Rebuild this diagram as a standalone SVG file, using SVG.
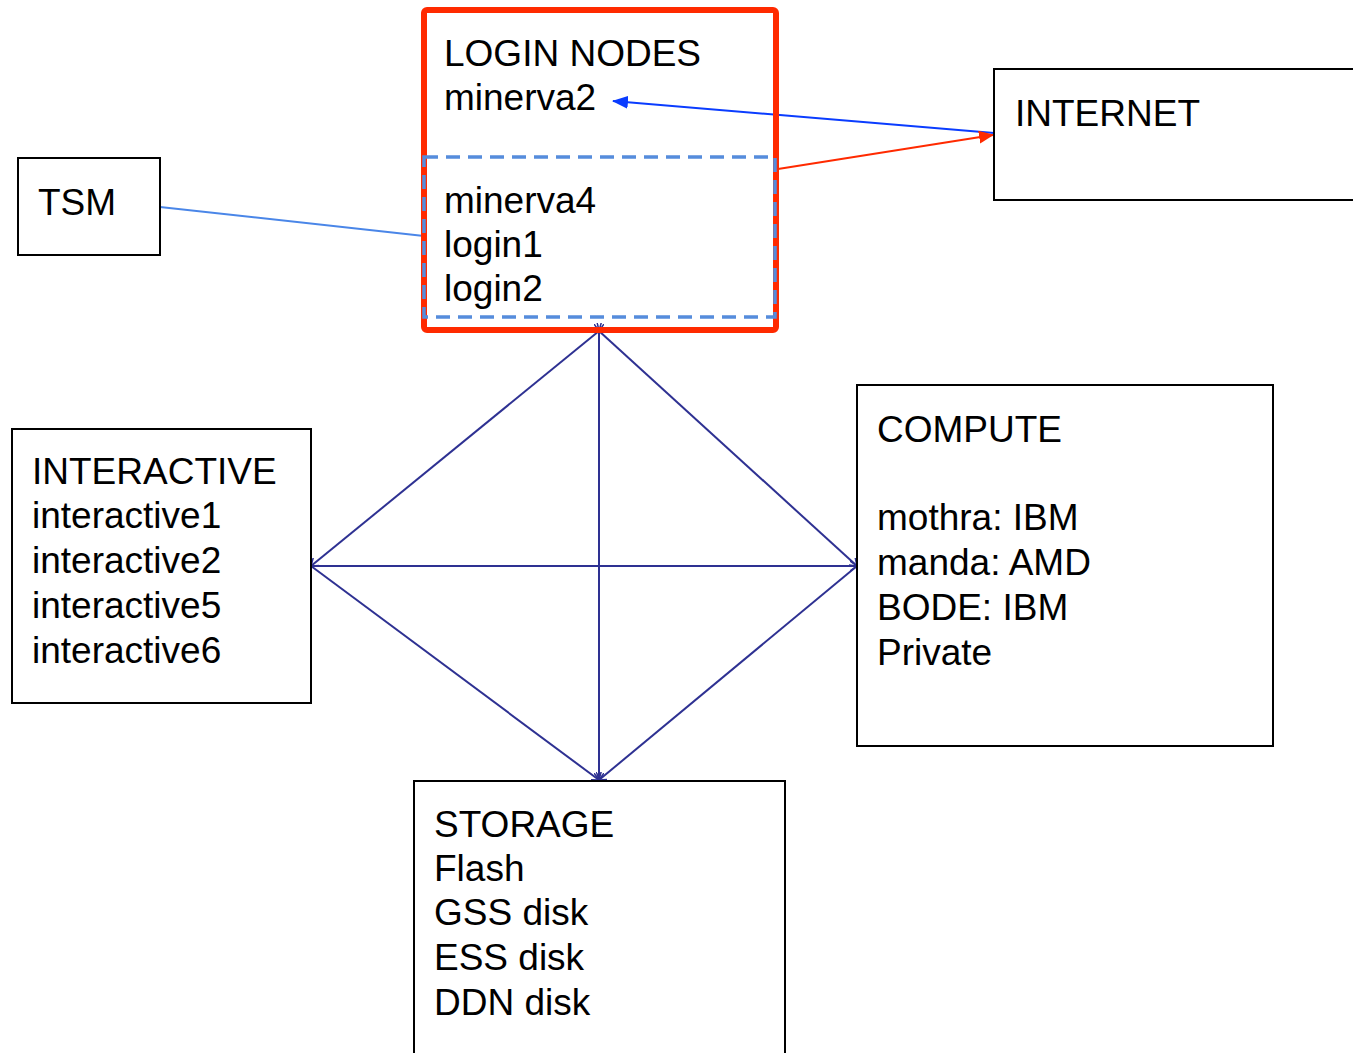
<svg xmlns="http://www.w3.org/2000/svg" width="1353" height="1053" viewBox="0 0 1353 1053">
<style>
.box{fill:#fff;stroke:#000;stroke-width:2}
.t{font-family:"Liberation Sans",Arial,sans-serif;font-size:37px;fill:#000}
.mesh{stroke:#2e3192;stroke-width:2;fill:none}
</style>
<defs>
<marker id="ab" markerWidth="16" markerHeight="13" refX="15" refY="6.5" orient="auto" markerUnits="userSpaceOnUse">
<path d="M0,0 L16,6.5 L0,13 z" fill="#0a3cff"/>
</marker>
<marker id="ar" markerWidth="15" markerHeight="13" refX="14" refY="6.5" orient="auto" markerUnits="userSpaceOnUse">
<path d="M0,0 L15,6.5 L0,13 z" fill="#ff2a00"/>
</marker>
<marker id="ao" markerWidth="8" markerHeight="10" refX="7" refY="5" orient="auto" markerUnits="userSpaceOnUse">
<path d="M0,0 L7,5 L0,10" fill="none" stroke="#2e3192" stroke-width="1.5"/>
</marker>
</defs>
<rect width="1353" height="1053" fill="#fff"/>
<g id="connectors">
<line x1="160" y1="207" x2="424" y2="236" stroke="#4a86e8" stroke-width="2"/>
<line x1="994" y1="133" x2="613" y2="101" stroke="#0a3cff" stroke-width="2" marker-end="url(#ab)"/>
<line x1="778" y1="169" x2="993" y2="135" stroke="#ff2a00" stroke-width="2" marker-end="url(#ar)"/>
<line class="mesh" x1="599" y1="331" x2="311" y2="566" marker-start="url(#ao)" marker-end="url(#ao)"/>
<line class="mesh" x1="599" y1="331" x2="857" y2="566" marker-start="url(#ao)" marker-end="url(#ao)"/>
<line class="mesh" x1="311" y1="566" x2="599" y2="780" marker-start="url(#ao)" marker-end="url(#ao)"/>
<line class="mesh" x1="857" y1="566" x2="599" y2="780" marker-start="url(#ao)" marker-end="url(#ao)"/>
<line class="mesh" x1="599" y1="331" x2="599" y2="780" marker-start="url(#ao)" marker-end="url(#ao)"/>
<line class="mesh" x1="311" y1="566" x2="857" y2="566" marker-start="url(#ao)" marker-end="url(#ao)"/>
</g>
<g id="login">
<rect x="424" y="10" width="352" height="320" rx="3" fill="none" stroke="#ff2a00" stroke-width="6"/>
<rect x="424" y="157" width="351" height="160" fill="none" stroke="#558cdc" stroke-width="3.5" stroke-dasharray="14,8"/>
<text class="t" x="444" y="66">LOGIN NODES</text>
<text class="t" x="444" y="110">minerva2</text>
<text class="t" x="444" y="213">minerva4</text>
<text class="t" x="444" y="257">login1</text>
<text class="t" x="444" y="301">login2</text>
</g>
<g id="tsm">
<rect class="box" x="18" y="158" width="142" height="97"/>
<text class="t" x="38" y="215">TSM</text>
</g>
<g id="internet">
<rect class="box" x="994" y="69" width="370" height="131"/>
<text class="t" x="1015" y="126">INTERNET</text>
</g>
<g id="interactive">
<rect class="box" x="12" y="429" width="299" height="274"/>
<text class="t" x="32" y="484">INTERACTIVE</text>
<text class="t" x="32" y="528">interactive1</text>
<text class="t" x="32" y="573">interactive2</text>
<text class="t" x="32" y="618">interactive5</text>
<text class="t" x="32" y="663">interactive6</text>
</g>
<g id="compute">
<rect class="box" x="857" y="385" width="416" height="361"/>
<text class="t" x="877" y="442">COMPUTE</text>
<text class="t" x="877" y="530">mothra: IBM</text>
<text class="t" x="877" y="575">manda: AMD</text>
<text class="t" x="877" y="620">BODE: IBM</text>
<text class="t" x="877" y="665">Private</text>
</g>
<g id="storage">
<rect class="box" x="414" y="781" width="371" height="290"/>
<text class="t" x="434" y="837">STORAGE</text>
<text class="t" x="434" y="881">Flash</text>
<text class="t" x="434" y="925">GSS disk</text>
<text class="t" x="434" y="970">ESS disk</text>
<text class="t" x="434" y="1015">DDN disk</text>
</g>
</svg>
